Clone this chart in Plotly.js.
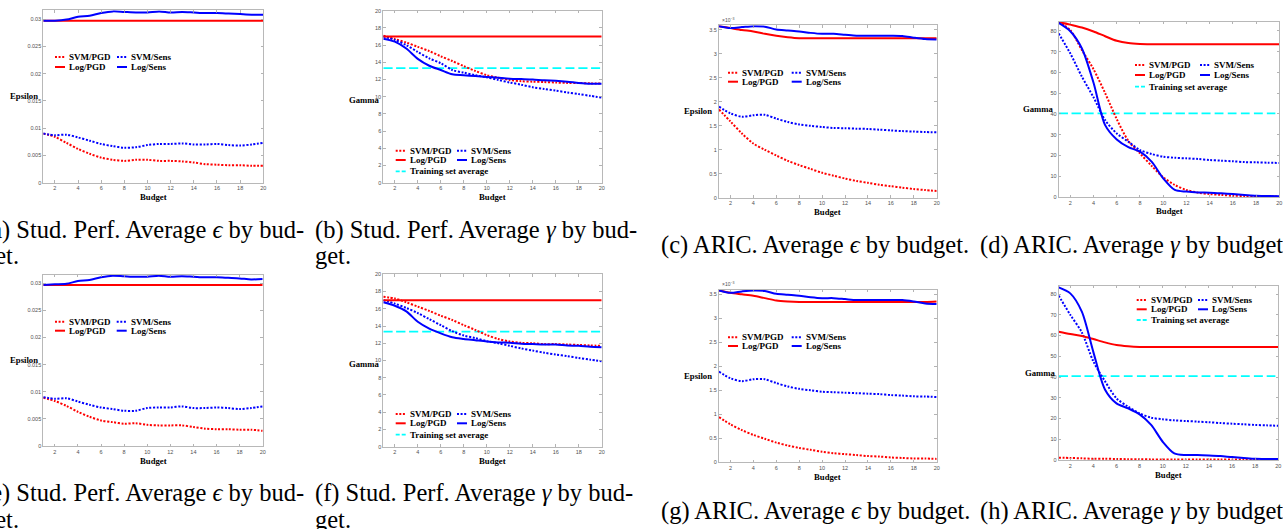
<!DOCTYPE html>
<html><head><meta charset="utf-8">
<script src="https://cdn.plot.ly/plotly-3.0.1.min.js"></script>
<style>html,body{margin:0;padding:0;background:#fff;overflow:hidden}#chart{width:1283px;height:529px}</style>
</head><body><div id="chart"></div>
<script>
// ---------------- DATA ----------------
const budget = [1,2,3,4,5,6,7,8,9,10,11,12,13,14,15,16,17,18,19,20];
const budgetTicks = [2,4,6,8,10,12,14,16,18,20];
const budgetTickText = ['2','4','6','8','10','12','14','16','18','20'];

const epsStudTicks = [0,0.005,0.01,0.015,0.02,0.025,0.03];
const epsStudTickText = ['0','0.005','0.01','0.015','0.02','0.025','0.03'];
const gammaStudTicks = [0,2,4,6,8,10,12,14,16,18,20];
const gammaStudTickText = ['0','2','4','6','8','10','12','14','16','18','20'];
const epsAricTicks = [0,0.5,1,1.5,2,2.5,3,3.5];           // units of 10^-3
const epsAricTickText = ['0','0.5','1','1.5','2','2.5','3','3.5'];
const gammaAricTicks = [0,10,20,30,40,50,60,70,80];
const gammaAricTickText = ['0','10','20','30','40','50','60','70','80'];

const seriesNames = ['SVM/PGD','SVM/Sens','Log/PGD','Log/Sens','Training set average'];

// (a) Stud. Perf. average epsilon
const studA_svmPGD  = [0.0090,0.0084,0.0073,0.0062,0.0053,0.0046,0.0042,0.0040,0.0042,0.0042,0.0040,0.0040,0.0039,0.0037,0.0034,0.0033,0.0032,0.0032,0.0031,0.0031];
const studA_svmSens = [0.0090,0.0087,0.0088,0.0083,0.0077,0.0071,0.0067,0.0064,0.0065,0.0069,0.0071,0.0071,0.0072,0.0070,0.0070,0.0071,0.0069,0.0068,0.0070,0.0073];
const studA_logPGD  = [0.0297,0.0297,0.0297,0.0297,0.0297,0.0297,0.0297,0.0297,0.0297,0.0297,0.0297,0.0297,0.0297,0.0297,0.0297,0.0297,0.0297,0.0297,0.0297,0.0297];
const studA_logSens = [0.0297,0.0297,0.0299,0.0304,0.0306,0.0311,0.0314,0.0313,0.0312,0.0312,0.0314,0.0312,0.0313,0.0312,0.0311,0.0311,0.0310,0.0309,0.0308,0.0308];

// (b) Stud. Perf. average gamma
const studB_svmPGD  = [17.1,16.7,16.3,15.8,15.3,14.7,14.15,13.55,13.0,12.5,12.2,11.95,11.8,11.75,11.7,11.65,11.6,11.6,11.55,11.55];
const studB_svmSens = [17.0,16.6,16.0,15.2,14.45,13.9,13.1,12.8,12.5,12.25,11.95,11.65,11.4,11.1,10.9,10.7,10.5,10.3,10.1,9.9];
const studB_logPGD  = [17.0,17.0,17.0,17.0,17.0,17.0,17.0,17.0,17.0,17.0,17.0,17.0,17.0,17.0,17.0,17.0,17.0,17.0,17.0,17.0];
const studB_logSens = [16.75,16.4,15.6,14.4,13.6,13.1,12.6,12.5,12.4,12.3,12.2,12.1,12.05,12.0,11.9,11.85,11.75,11.6,11.5,11.5];
const studB_trainAvg = [13.33,13.33,13.33,13.33,13.33,13.33,13.33,13.33,13.33,13.33,13.33,13.33,13.33,13.33,13.33,13.33,13.33,13.33,13.33,13.33];

// (c) ARIC average epsilon (x 10^-3)
const aricC_svmPGD  = [1.84,1.59,1.34,1.13,1.0,0.88,0.77,0.68,0.60,0.52,0.46,0.40,0.35,0.31,0.27,0.24,0.21,0.18,0.16,0.14];
const aricC_svmSens = [1.90,1.76,1.69,1.72,1.73,1.65,1.58,1.53,1.50,1.475,1.455,1.45,1.44,1.435,1.42,1.405,1.39,1.38,1.37,1.365];
const aricC_logPGD  = [3.58,3.54,3.50,3.47,3.42,3.38,3.35,3.33,3.33,3.33,3.33,3.33,3.33,3.33,3.33,3.33,3.33,3.33,3.33,3.33];
const aricC_logSens = [3.58,3.54,3.56,3.58,3.57,3.51,3.49,3.47,3.44,3.42,3.42,3.40,3.38,3.38,3.38,3.38,3.375,3.34,3.31,3.30];

// (d) ARIC average gamma
const aricD_svmPGD  = [84.3,80.3,70.7,61.5,50.0,37.5,27.0,21.0,15.0,9.5,5.8,3.4,2.1,1.4,1.0,0.6,0.5,0.3,0.2,0.2];
const aricD_svmSens = [78.7,69.1,57.9,48.0,37.0,30.6,26.6,22.6,20.7,19.4,18.9,18.6,18.3,17.8,17.5,17.2,16.8,16.7,16.5,16.4];
const aricD_logPGD  = [84.3,83.0,81.6,79.7,77.4,75.2,74.1,73.7,73.6,73.6,73.6,73.6,73.6,73.6,73.6,73.6,73.6,73.6,73.6,73.6];
const aricD_logSens = [83.8,79.8,71.5,55.0,34.6,27.7,24.0,21.8,17.0,9.0,3.4,2.6,2.2,2.1,1.8,1.4,1.0,0.6,0.5,0.4];
const aricD_trainAvg = [40.3,40.3,40.3,40.3,40.3,40.3,40.3,40.3,40.3,40.3,40.3,40.3,40.3,40.3,40.3,40.3,40.3,40.3,40.3,40.3];

// (e) Stud. Perf. average epsilon
const studE_svmPGD  = [0.0089,0.0083,0.0074,0.0063,0.0054,0.0047,0.0044,0.0041,0.0042,0.0039,0.0038,0.0038,0.0038,0.0035,0.0032,0.0031,0.0031,0.0030,0.0030,0.0028];
const studE_svmSens = [0.0090,0.0087,0.0088,0.0082,0.0076,0.0071,0.0068,0.0065,0.0065,0.0070,0.0071,0.0071,0.0073,0.0070,0.0070,0.0071,0.0070,0.0068,0.0070,0.0073];
const studE_logPGD  = [0.0297,0.0297,0.0297,0.0297,0.0297,0.0297,0.0297,0.0297,0.0297,0.0297,0.0297,0.0297,0.0297,0.0297,0.0297,0.0297,0.0297,0.0297,0.0297,0.0297];
const studE_logSens = [0.0297,0.0298,0.0299,0.0304,0.0306,0.0311,0.0314,0.0313,0.0312,0.0312,0.0314,0.0312,0.0313,0.0312,0.0311,0.0311,0.0310,0.0309,0.0307,0.0308];

// (f) Stud. Perf. average gamma
const studF_svmPGD  = [17.4,17.2,16.75,16.25,15.75,15.2,14.7,14.1,13.55,12.95,12.5,12.2,12.05,12.0,11.9,11.9,11.85,11.8,11.75,11.7];
const studF_svmSens = [17.0,16.6,16.1,15.5,14.8,14.1,13.4,12.9,12.6,12.25,12.0,11.7,11.4,11.15,10.9,10.7,10.5,10.3,10.1,9.9];
const studF_logPGD  = [17.0,17.0,17.0,17.0,17.0,17.0,17.0,17.0,17.0,17.0,17.0,17.0,17.0,17.0,17.0,17.0,17.0,17.0,17.0,17.0];
const studF_logSens = [16.75,16.35,15.7,14.5,13.7,13.15,12.7,12.5,12.35,12.2,12.1,12.05,11.95,11.9,11.85,11.85,11.75,11.7,11.6,11.55];
const studF_trainAvg = [13.35,13.35,13.35,13.35,13.35,13.35,13.35,13.35,13.35,13.35,13.35,13.35,13.35,13.35,13.35,13.35,13.35,13.35,13.35,13.35];

// (g) ARIC average epsilon (x 10^-3)
const aricG_svmPGD  = [0.94,0.79,0.67,0.57,0.49,0.41,0.35,0.30,0.26,0.22,0.19,0.17,0.15,0.13,0.12,0.10,0.09,0.08,0.08,0.07];
const aricG_svmSens = [1.89,1.75,1.69,1.73,1.73,1.65,1.58,1.53,1.50,1.47,1.46,1.45,1.44,1.43,1.42,1.40,1.39,1.375,1.37,1.36];
const aricG_logPGD  = [3.58,3.53,3.50,3.47,3.42,3.37,3.35,3.34,3.34,3.34,3.34,3.34,3.34,3.34,3.34,3.34,3.34,3.34,3.34,3.35];
const aricG_logSens = [3.58,3.53,3.56,3.58,3.57,3.51,3.49,3.47,3.44,3.42,3.42,3.40,3.38,3.38,3.38,3.38,3.38,3.35,3.31,3.30];

// (h) ARIC average gamma
const aricH_svmPGD  = [1.1,1.0,0.8,0.6,0.6,0.5,0.4,0.35,0.3,0.3,0.3,0.25,0.25,0.2,0.2,0.2,0.2,0.2,0.2,0.2];
const aricH_svmSens = [79.2,70.0,61.5,47.5,38.0,29.7,25.7,22.5,20.4,19.6,19.1,18.8,18.5,18.2,17.8,17.5,17.2,16.9,16.7,16.5];
const aricH_logPGD  = [61.8,60.7,59.8,58.3,56.7,55.4,54.8,54.5,54.5,54.5,54.5,54.5,54.5,54.5,54.5,54.5,54.5,54.5,54.5,54.5];
const aricH_logSens = [83.2,80.3,71.5,52.0,34.0,27.3,24.9,22.0,16.9,8.8,3.2,2.4,2.4,2.2,1.9,1.4,1.0,0.6,0.5,0.5];
const aricH_trainAvg = [40.4,40.4,40.4,40.4,40.4,40.4,40.4,40.4,40.4,40.4,40.4,40.4,40.4,40.4,40.4,40.4,40.4,40.4,40.4,40.4];

const captionLines = {
  a: ['(a) Stud. Perf. Average <i>ϵ</i> by bud-', 'get.'],
  b: ['(b) Stud. Perf. Average <i>γ</i> by bud-', 'get.'],
  c: ['(c) ARIC. Average <i>ϵ</i> by budget.'],
  d: ['(d) ARIC. Average <i>γ</i> by budget.'],
  e: ['(e) Stud. Perf. Average <i>ϵ</i> by bud-', 'get.'],
  f: ['(f) Stud. Perf. Average <i>γ</i> by bud-', 'get.'],
  g: ['(g) ARIC. Average <i>ϵ</i> by budget.'],
  h: ['(h) ARIC. Average <i>γ</i> by budget.']
};

// ---------------- LAYOUT ----------------
const W = 1283, H = 529;
const PX = x => x / W, PY = y => 1 - y / H;
const RED = '#ff0000', BLUE = '#0000ff', CYAN = '#00ffff';
const DOT = '2px,1.6px', DASH = '9px,4px';
const styles = [
  {color: RED,  dash: DOT},
  {color: BLUE, dash: DOT},
  {color: RED,  dash: 'solid'},
  {color: BLUE, dash: 'solid'},
  {color: CYAN, dash: DASH}
];
const SERIF = 'Liberation Serif, Times New Roman, serif';
const SANS = 'Liberation Sans, Arial, sans-serif';
const CAP_SIZE = 24.5;

const panels = [
  {key:'a', dom:[43.3,263.3,10.3,182.7], yr:[0,0.0316], yt:[epsStudTicks,epsStudTickText], ylab:'Epsilon', ylabXY:[23.5,96],
   data:[studA_svmPGD,studA_svmSens,studA_logPGD,studA_logSens,null], leg:{c1:55,c2:117,rows:[57,67,77]},
   cap:{x:-19, ys:[230,256]}},
  {key:'b', dom:[383.3,601.7,10.7,182.7], yr:[0,20], yt:[gammaStudTicks,gammaStudTickText], ylab:'Gamma', ylabXY:[364,100],
   data:[studB_svmPGD,studB_svmSens,studB_logPGD,studB_logSens,studB_trainAvg], leg:{c1:395.7,c2:457,rows:[150.7,160,171.3]},
   cap:{x:313, ys:[230,256]}},
  {key:'c', dom:[719,936.7,25.2,197.7], yr:[0,3.6], yt:[epsAricTicks,epsAricTickText], ylab:'Epsilon', ylabXY:[697.8,110.7], exp:true,
   data:[aricC_svmPGD,aricC_svmSens,aricC_logPGD,aricC_logSens,null], leg:{c1:728,c2:791.7,rows:[72.7,81.7,91]},
   cap:{x:659, ys:[245]}},
  {key:'d', dom:[1058.7,1279.3,21.5,197], yr:[0,84.5], yt:[gammaAricTicks,gammaAricTickText], ylab:'Gamma', ylabXY:[1038.7,109],
   data:[aricD_svmPGD,aricD_svmSens,aricD_logPGD,aricD_logSens,aricD_trainAvg], leg:{c1:1135,c2:1200,rows:[65,75,86.7]},
   cap:{x:978, ys:[245]}},
  {key:'e', dom:[43.3,262.7,274.6,446], yr:[0,0.0316], yt:[epsStudTicks,epsStudTickText], ylab:'Epsilon', ylabXY:[24.5,360],
   data:[studE_svmPGD,studE_svmSens,studE_logPGD,studE_logSens,null], leg:{c1:55,c2:116.7,rows:[321.7,330.7,340]},
   cap:{x:-19, ys:[493,519]}},
  {key:'f', dom:[383.3,601.7,274.3,446.7], yr:[0,20], yt:[gammaStudTicks,gammaStudTickText], ylab:'Gamma', ylabXY:[364,364],
   data:[studF_svmPGD,studF_svmSens,studF_logPGD,studF_logSens,studF_trainAvg], leg:{c1:395.7,c2:457,rows:[414,423.3,434.7]},
   cap:{x:313, ys:[493,519]}},
  {key:'g', dom:[719,936.7,289.5,462.3], yr:[0,3.6], yt:[epsAricTicks,epsAricTickText], ylab:'Epsilon', ylabXY:[697.8,375.7], exp:true,
   data:[aricG_svmPGD,aricG_svmSens,aricG_logPGD,aricG_logSens,null], leg:{c1:728,c2:791.7,rows:[337.3,346,355]},
   cap:{x:659, ys:[511]}},
  {key:'h', dom:[1058.7,1278.3,285.7,460], yr:[0,84], yt:[gammaAricTicks,gammaAricTickText], ylab:'Gamma', ylabXY:[1040.5,372.7],
   data:[aricH_svmPGD,aricH_svmSens,aricH_logPGD,aricH_logSens,aricH_trainAvg], leg:{c1:1136.7,c2:1198,rows:[300,309.3,320]},
   cap:{x:978, ys:[511]}}
];

const traces = [];
const layout = {
  width: W, height: H, margin: {l:0, r:0, t:0, b:0},
  paper_bgcolor: '#fff', plot_bgcolor: '#fff', showlegend: false,
  shapes: [], annotations: []
};

const axisCommon = {
  ticks: 'inside', ticklen: 2.5, tickwidth: 0.8, tickcolor: '#a0a0a0',
  showline: true, linecolor: '#b8b8b8', linewidth: 1, mirror: 'ticks',
  showgrid: false, zeroline: false, fixedrange: true,
  tickfont: {family: SANS, size: 5.5, color: '#505050'}
};

// legend slot order: [col, row]
const legSlots = [[1,0],[2,0],[1,1],[2,1],[1,2]];

panels.forEach((p, i) => {
  const s = i === 0 ? '' : String(i + 1);
  const xa = 'x' + s, ya = 'y' + s;
  layout['xaxis' + s] = Object.assign({}, axisCommon, {
    domain: [PX(p.dom[0]), PX(p.dom[1])], range: [1, 20], anchor: ya,
    tickmode: 'array', tickvals: budgetTicks, ticktext: budgetTickText
  });
  layout['yaxis' + s] = Object.assign({}, axisCommon, {
    domain: [PY(p.dom[3]), PY(p.dom[2])], range: p.yr, anchor: xa,
    tickmode: 'array', tickvals: p.yt[0], ticktext: p.yt[1]
  });

  const order = [4, 0, 1, 2, 3];
  order.forEach(k => {
    const ys = p.data[k];
    if (!ys) return;
    traces.push({
      type: 'scatter', mode: 'lines', x: budget, y: ys, xaxis: xa, yaxis: ya,
      name: seriesNames[k], showlegend: false, hoverinfo: 'skip',
      line: {color: styles[k].color, dash: styles[k].dash, width: k === 4 ? 1.8 : 2, shape: 'spline', smoothing: 0.8}
    });
  });

  // manual two-column legend
  p.data.forEach((ys, k) => {
    if (!ys) return;
    const [col, row] = legSlots[k];
    const x0 = col === 1 ? p.leg.c1 : p.leg.c2;
    const y0 = p.leg.rows[row];
    layout.shapes.push({
      type: 'line', xref: 'paper', yref: 'paper',
      x0: PX(x0), x1: PX(x0 + 10), y0: PY(y0), y1: PY(y0),
      line: {color: styles[k].color, width: k === 4 ? 1.8 : 2, dash: k === 4 ? '4px,2px' : styles[k].dash}
    });
    layout.annotations.push({
      xref: 'paper', yref: 'paper', x: PX(x0 + 12), y: PY(y0), xanchor: 'left', yanchor: 'middle',
      text: '<b>' + seriesNames[k] + '</b>', showarrow: false,
      font: {family: SERIF, size: 9, color: '#000'}
    });
  });

  // axis labels
  layout.annotations.push({
    xref: 'paper', yref: 'paper', x: PX(p.ylabXY[0]), y: PY(p.ylabXY[1]), xanchor: 'center', yanchor: 'middle',
    text: '<b>' + p.ylab + '</b>', showarrow: false, font: {family: SERIF, size: 8.7, color: '#000'}
  });
  layout.annotations.push({
    xref: 'paper', yref: 'paper', x: PX((p.dom[0] + p.dom[1]) / 2), y: PY(p.dom[3] + 14.5), xanchor: 'center', yanchor: 'middle',
    text: '<b>Budget</b>', showarrow: false, font: {family: SERIF, size: 8.7, color: '#000'}
  });
  if (p.exp) {
    layout.annotations.push({
      xref: 'paper', yref: 'paper', x: PX(p.dom[0] + 0.5), y: PY(p.dom[2] - 0.5), xanchor: 'left', yanchor: 'bottom',
      text: '×10<sup>−3</sup>', showarrow: false, font: {family: SANS, size: 5, color: '#505050'}
    });
  }
  // captions
  captionLines[p.key].forEach((t, j) => {
    layout.annotations.push({
      xref: 'paper', yref: 'paper', x: PX(p.cap.x), y: PY(p.cap.ys[j]), xanchor: 'left', yanchor: 'middle',
      text: t, showarrow: false, font: {family: SERIF, size: CAP_SIZE, color: '#000'}
    });
  });
});

Plotly.newPlot('chart', traces, layout, {staticPlot: true, displayModeBar: false});
</script>
</body></html>
